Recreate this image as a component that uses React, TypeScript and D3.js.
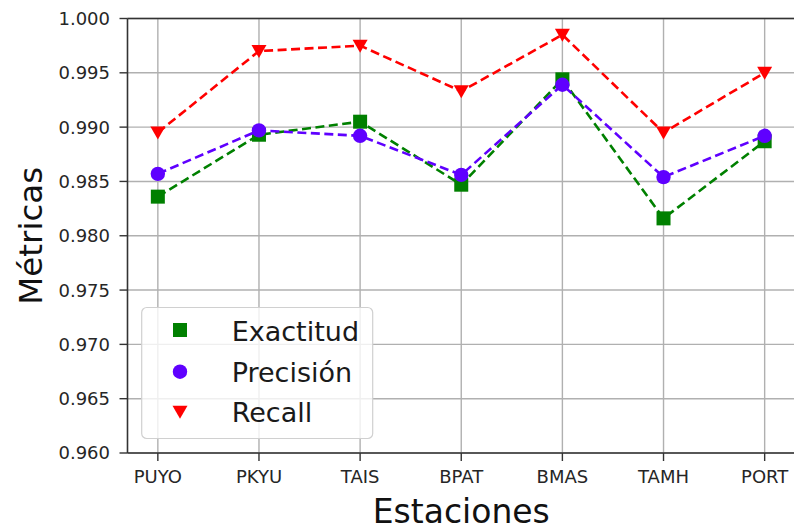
import React from "react";
import * as d3 from "d3";

const stations = ["PUYO", "PKYU", "TAIS", "BPAT", "BMAS", "TAMH", "PORT"];
const exactitud = [0.9836, 0.9893, 0.9905, 0.9847, 0.9944, 0.9816, 0.9887];
const precision = [0.9857, 0.9897, 0.9892, 0.9856, 0.9939, 0.9854, 0.9892];
const recall = [0.9895, 0.9970, 0.9975, 0.9933, 0.9985, 0.9895, 0.9950];
const yTicks = [0.96, 0.965, 0.97, 0.975, 0.98, 0.985, 0.99, 0.995, 1.0];
const seriesNames = ["Exactitud", "Precisión", "Recall"];

const W = 794;
const H = 526;
const left = 127.5;
const right = 795;
const top = 18.5;
const bottom = 453;
const FONT = "DejaVu Sans, sans-serif";

const colors = ["#008000", "#5f00ff", "#ff0000"];
const shapes = ["square", "circle", "triangle"];

function Marker({ shape, x, y, color }: { shape: string; x: number; y: number; color: string }) {
  if (shape === "square") return <rect x={x - 7} y={y - 7} width={14} height={14} fill={color} />;
  if (shape === "circle") return <circle cx={x} cy={y} r={7.2} fill={color} />;
  return <path d={`M${x - 7.5},${y - 6} L${x + 7.5},${y - 6} L${x},${y + 7} Z`} fill={color} />;
}

export default function App() {
  const n = stations.length;
  const unit = (right - left) / (n - 1 + 0.6);
  const x = d3
    .scalePoint<string>()
    .domain(stations)
    .range([left + 0.3 * unit, right - 0.3 * unit]);
  const y = d3.scaleLinear().domain([0.96, 1.0]).range([bottom, top]);
  const data = [exactitud, precision, recall];
  const line = d3
    .line<number>()
    .x((_, i) => x(stations[i]) as number)
    .y((d) => y(d));

  return (
    <svg width={W} height={H} style={{ position: "absolute", left: 0, top: 0, background: "#fff" }}>
      <rect width={W} height={H} fill="#fff" />
      <defs>
        <clipPath id="plot">
          <rect x={left} y={top - 10} width={right - left} height={bottom - top + 20} />
        </clipPath>
      </defs>
      {/* grid */}
      {yTicks.map((t) => (
        <line key={"gy" + t} x1={left} x2={right} y1={y(t)} y2={y(t)} stroke="#b0b0b0" strokeWidth={1.4} />
      ))}
      {stations.map((s) => (
        <line key={"gx" + s} x1={x(s)} x2={x(s)} y1={top} y2={bottom} stroke="#b0b0b0" strokeWidth={1.4} />
      ))}
      {/* series */}
      <g clipPath="url(#plot)">
        {data.map((vals, si) => (
          <g key={seriesNames[si]}>
            <path d={line(vals) || ""} fill="none" stroke={colors[si]} strokeWidth={2.6} strokeDasharray="9,4.5" />
            {vals.map((v, i) => (
              <Marker key={i} shape={shapes[si]} x={x(stations[i]) as number} y={y(v)} color={colors[si]} />
            ))}
          </g>
        ))}
      </g>
      {/* spines */}
      <line x1={left} x2={left} y1={top} y2={bottom} stroke="#333" strokeWidth={1.6} />
      <line x1={left} x2={right} y1={bottom} y2={bottom} stroke="#333" strokeWidth={1.6} />
      <line x1={left} x2={right} y1={top} y2={top} stroke="#333" strokeWidth={1.6} />
      {/* y ticks */}
      {yTicks.map((t) => (
        <g key={"ty" + t}>
          <line x1={left - 8} x2={left} y1={y(t)} y2={y(t)} stroke="#333" strokeWidth={1.4} />
          <text x={110} y={y(t)} dy="0.36em" textAnchor="end" fontFamily={FONT} fontSize={18} fill="#262626">
            {d3.format(".3f")(t)}
          </text>
        </g>
      ))}
      {/* x ticks */}
      {stations.map((s) => (
        <g key={"tx" + s}>
          <line x1={x(s)} x2={x(s)} y1={bottom} y2={bottom + 8} stroke="#333" strokeWidth={1.4} />
          <text x={x(s)} y={483.3} textAnchor="middle" fontFamily={FONT} fontSize={18} fill="#262626">
            {s}
          </text>
        </g>
      ))}
      {/* axis labels */}
      <text x={(left + right) / 2} y={522.7} textAnchor="middle" fontFamily={FONT} fontSize={33} fill="#111">
        Estaciones
      </text>
      <text
        transform={`translate(42, ${(top + bottom) / 2}) rotate(-90)`}
        textAnchor="middle"
        fontFamily={FONT}
        fontSize={32.5}
        fill="#111"
      >
        Métricas
      </text>
      {/* legend */}
      <g>
        <rect x={141.7} y={307.5} width={231} height={131} rx={5} fill="#fff" fillOpacity={0.8} stroke="#d0d0d0" strokeWidth={1.2} />
        {seriesNames.map((name, si) => {
          const cy = [330, 371.7, 411.7][si];
          return (
            <g key={"lg" + name}>
              <Marker shape={shapes[si]} x={180} y={cy} color={colors[si]} />
              <text x={231.7} y={cy + 10.5} fontFamily={FONT} fontSize={27} fill="#1a1a1a">
                {name}
              </text>
            </g>
          );
        })}
      </g>
    </svg>
  );
}
